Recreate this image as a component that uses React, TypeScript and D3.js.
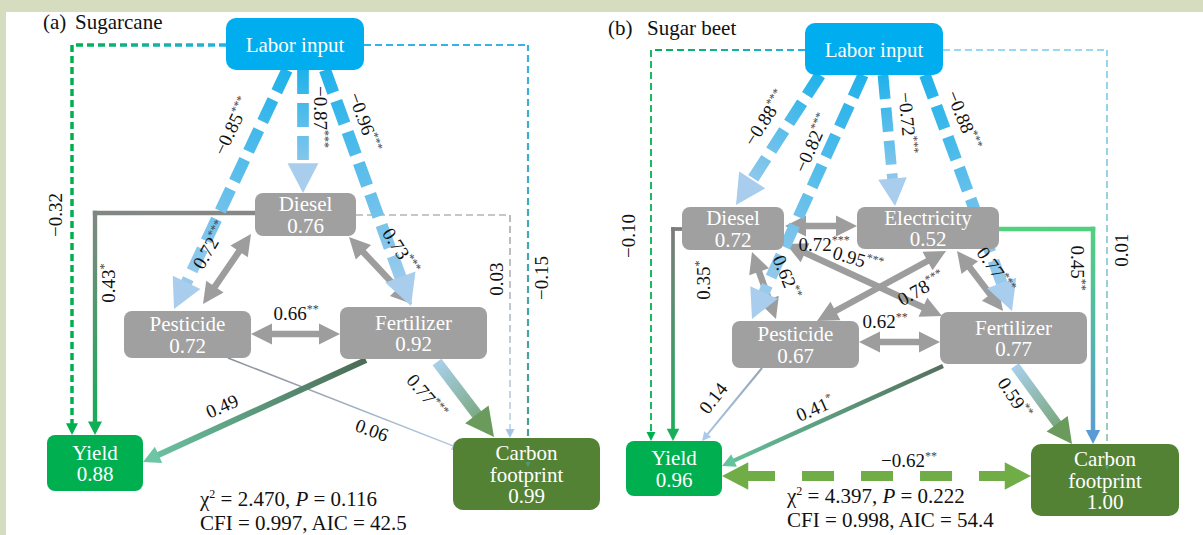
import React from 'react';
import * as d3 from 'd3';

type Edge = [string, string, number, string];
type Rect = [number, number, number, number];

// ---------- (a) Sugarcane ----------
const caneNodes = ['labor', 'diesel', 'pesticide', 'fertilizer', 'yield', 'carbon'];
const caneR2 = [NaN, 0.76, 0.72, 0.92, 0.88, 0.99];
const canePaths: Edge[] = [
  ['labor', 'diesel', -0.87, '***'],
  ['labor', 'pesticide', -0.85, '***'],
  ['labor', 'fertilizer', -0.96, '***'],
  ['labor', 'yield', -0.32, ''],
  ['labor', 'carbon', -0.15, ''],
  ['diesel', 'yield', 0.43, '*'],
  ['diesel', 'carbon', 0.03, ''],
  ['pesticide', 'carbon', 0.06, ''],
  ['fertilizer', 'yield', 0.49, ''],
  ['fertilizer', 'carbon', 0.77, '***'],
];
const caneCovs: Edge[] = [
  ['diesel', 'pesticide', 0.72, '***'],
  ['diesel', 'fertilizer', 0.73, '***'],
  ['pesticide', 'fertilizer', 0.66, '**'],
];
const caneFit = [2.47, 0.116, 0.997, 42.5];

// ---------- (b) Sugar beet ----------
const beetNodes = ['labor', 'diesel', 'electricity', 'pesticide', 'fertilizer', 'yield', 'carbon'];
const beetR2 = [NaN, 0.72, 0.52, 0.67, 0.77, 0.96, 1.0];
const beetPaths: Edge[] = [
  ['labor', 'diesel', -0.88, '***'],
  ['labor', 'pesticide', -0.82, '***'],
  ['labor', 'electricity', -0.72, '***'],
  ['labor', 'fertilizer', -0.88, '***'],
  ['labor', 'yield', -0.1, ''],
  ['labor', 'carbon', 0.01, ''],
  ['diesel', 'yield', 0.35, '*'],
  ['electricity', 'carbon', 0.45, '**'],
  ['pesticide', 'yield', 0.14, ''],
  ['fertilizer', 'yield', 0.41, '*'],
  ['fertilizer', 'carbon', 0.59, '**'],
];
const beetCovs: Edge[] = [
  ['diesel', 'electricity', 0.72, '***'],
  ['diesel', 'fertilizer', 0.95, '***'],
  ['diesel', 'pesticide', 0.62, '**'],
  ['electricity', 'pesticide', 0.78, '***'],
  ['electricity', 'fertilizer', 0.77, '***'],
  ['pesticide', 'fertilizer', 0.62, '**'],
  ['yield', 'carbon', -0.62, '**'],
];
const beetFit = [4.397, 0.222, 0.998, 54.4];

const nodeText: Record<string, string[]> = {
  labor: ['Labor input'],
  diesel: ['Diesel'],
  electricity: ['Electricity'],
  pesticide: ['Pesticide'],
  fertilizer: ['Fertilizer'],
  yield: ['Yield'],
  carbon: ['Carbon', 'footprint'],
};

// ---------- layout ----------
const caneBoxes: Record<string, Rect> = {
  labor: [226, 18, 138, 52],
  diesel: [255, 193, 101, 43],
  pesticide: [124, 311, 127, 47],
  fertilizer: [340, 307, 147, 52],
  yield: [47, 435, 96, 56],
  carbon: [453, 438, 147, 72],
};
const beetBoxes: Record<string, Rect> = {
  labor: [805, 23, 138, 52],
  diesel: [682, 207, 102, 43],
  electricity: [857, 207, 142, 42],
  pesticide: [732, 321, 127, 47],
  fertilizer: [940, 312, 147, 52],
  yield: [626, 441, 96, 55],
  carbon: [1031, 444, 148, 72],
};

const nodeFill: Record<string, string> = {
  labor: '#00aeef',
  diesel: '#a0a0a0',
  electricity: '#a0a0a0',
  pesticide: '#a0a0a0',
  fertilizer: '#a0a0a0',
  yield: '#00b050',
  carbon: '#548235',
};

const LABOR = ['#1fb2ea', '#a9cdec'];
const GRAY = ['#9d9d9d', '#9d9d9d'];

interface Route {
  a: [number, number]; // offset inside source box
  b: [number, number]; // offset inside target box
  elbow?: boolean;
  colors: string[];
  label: [number, number, number];
  dash?: string;
  tipOnTop?: boolean;
}

const caneRoutes: Record<string, Route> = {
  'labor>diesel': { a: [77, 52], b: [48, 0], colors: LABOR, label: [321, 117, 90] },
  'labor>pesticide': { a: [61, 52], b: [50, -2], colors: LABOR, label: [232, 126, -64] },
  'labor>fertilizer': { a: [99, 52], b: [71, -1], colors: LABOR, label: [365, 122, 70] },
  'labor>yield': { a: [0, 27], b: [25, 0], elbow: true, colors: ['#25b3e8', '#00b050', '#00b050'], label: [55, 215, -90] },
  'labor>carbon': { a: [138, 27], b: [75, 29], elbow: true, colors: ['#2db4ea', '#3cb2e2', '#4b9c84'], label: [541, 278, -90], tipOnTop: true },
  'diesel>yield': { a: [0, 20], b: [48, 0], elbow: true, colors: ['#878787', '#808782', '#10ae55'], label: [108, 283, -90] },
  'diesel>carbon': { a: [101, 22], b: [57, 0], elbow: true, colors: ['#8e8e8e', '#8e8e8e', '#a5c5e5'], label: [496, 279, -90] },
  'pesticide>carbon': { a: [104, 47], b: [8, 11], colors: ['#8a9097', '#b2cbe4'], label: [372, 430, 20] },
  'fertilizer>yield': { a: [26, 53], b: [96, 27], colors: ['#4b6b55', '#6cc5a4'], label: [222, 406, -24] },
  'fertilizer>carbon': { a: [97, 55], b: [41, -1], colors: ['#a9d0ea', '#6a9b5d'], label: [427, 396, 50] },
  'diesel<>pesticide': { a: [-4, 41], b: [79, -7], colors: GRAY, label: [210, 245, -60] },
  'diesel<>fertilizer': { a: [94, 44], b: [72, -3], colors: GRAY, label: [401, 251, 57] },
  'pesticide<>fertilizer': { a: [127, 23], b: [0, 27], colors: GRAY, label: [296, 313, 0] },
};

const beetRoutes: Record<string, Route> = {
  'labor>diesel': { a: [15, 52], b: [54, -2], colors: LABOR, label: [765, 118, -57] },
  'labor>pesticide': { a: [58, 52], b: [20, -2], colors: LABOR, label: [812, 143, -66] },
  'labor>electricity': { a: [78, 52], b: [38, -1], colors: LABOR, label: [908, 123, 85] },
  'labor>fertilizer': { a: [120, 52], b: [72, -1], colors: LABOR, label: [964, 120, 68] },
  'labor>yield': { a: [0, 27], b: [25, 0], elbow: true, colors: ['#25b3e8', '#00b050', '#00b050'], label: [628, 236, -90] },
  'labor>carbon': { a: [138, 27], b: [76, 26], elbow: true, colors: ['#2db4ea', '#3cb2e2', '#4b9c84'], label: [1121, 250, -90], tipOnTop: true },
  'diesel>yield': { a: [0, 22], b: [47, 0], elbow: true, colors: ['#7c7c7c', '#7c7c7c', '#1aae5a'], label: [703, 280, -90] },
  'electricity>carbon': { a: [142, 22], b: [62, 0], elbow: true, colors: ['#52d27c', '#50d07f', '#5b9bd5'], label: [1078, 268, 90] },
  'pesticide>yield': { a: [30, 47], b: [76, 0], colors: ['#97a5b3', '#abc9e9'], label: [713, 398, -52] },
  'fertilizer>yield': { a: [3, 54], b: [96, 25], colors: ['#55705e', '#64c29d'], label: [815, 408, -24] },
  'fertilizer>carbon': { a: [75, 54], b: [41, 0], colors: ['#a9d0ea', '#6a9b5d'], label: [1015, 398, 56] },
  'diesel<>electricity': { a: [103, 19], b: [0, 19], colors: GRAY, label: [824, 244, 0] },
  'diesel<>fertilizer': { a: [104, 37], b: [2, 4], colors: GRAY, label: [858, 259, 16] },
  'diesel<>pesticide': { a: [70, 45], b: [44, -2], colors: GRAY, label: [787, 277, 68] },
  'electricity<>pesticide': { a: [89, 44], b: [85, 0], colors: GRAY, label: [921, 288, -30] },
  'electricity<>fertilizer': { a: [100, 44], b: [63, -1], colors: GRAY, label: [996, 270, 55] },
  'pesticide<>fertilizer': { a: [127, 21], b: [0, 30], colors: GRAY, label: [885, 321, 0] },
  'yield<>carbon': { a: [96, 35], b: [0, 32], colors: ['#70ad47', '#70ad47'], dash: '32 27', label: [909, 460, 0] },
};

// path coefficient -> stroke width
const widthScale = d3.scaleLinear().domain([0, 0.45, 0.6, 1]).range([1, 4.5, 10, 12.5]).clamp(true);
const fmt2 = d3.format('.2f');
const fmt3 = d3.format('.3f');
const fmt1 = d3.format('.1f');
const coefText = (v: number) => (v < 0 ? '\u2212' : '') + fmt2(Math.abs(v));

const FONT = "'Liberation Serif','Times New Roman',serif";

type Pt = [number, number];

function headPoints(tip: Pt, from: Pt, hw: number, hl: number) {
  const dx = tip[0] - from[0];
  const dy = tip[1] - from[1];
  const L = Math.hypot(dx, dy);
  const ux = dx / L;
  const uy = dy / L;
  const bx = tip[0] - ux * hl;
  const by = tip[1] - uy * hl;
  return `${tip[0]},${tip[1]} ${bx - uy * hw},${by + ux * hw} ${bx + uy * hw},${by - ux * hw}`;
}

interface ConnProps {
  uid: string;
  pts: Pt[];
  colors: string[];
  w: number;
  dash?: string;
  startHead: boolean;
  hw: number;
  hl: number;
}

function Connector({ uid, pts, colors, w, dash, startHead, hw, hl }: ConnProps) {
  const n = pts.length;
  const segs: any[] = [];
  let acc = 0;
  for (let i = 0; i < n - 1; i++) {
    const [x1, y1] = pts[i];
    const [x2, y2] = pts[i + 1];
    const L = Math.hypot(x2 - x1, y2 - y1);
    const ux = (x2 - x1) / L;
    const uy = (y2 - y1) / L;
    let sx1 = x1, sy1 = y1, sx2 = x2, sy2 = y2;
    if (i === 0 && startHead) { sx1 += ux * hl * 0.8; sy1 += uy * hl * 0.8; }
    if (i === n - 2) { sx2 -= ux * hl * 0.8; sy2 -= uy * hl * 0.8; }
    if (i > 0 && !dash) { sx1 -= ux * w / 2; sy1 -= uy * w / 2; }
    if (i < n - 2 && !dash) { sx2 += ux * w / 2; sy2 += uy * w / 2; }
    segs.push({ x1, y1, x2, y2, sx1, sy1, sx2, sy2, off: acc, c1: colors[i], c2: colors[i + 1] });
    acc += L;
  }
  return (
    <g>
      <defs>
        {segs.map((s, i) => (
          <linearGradient key={i} id={`${uid}-g${i}`} gradientUnits="userSpaceOnUse" x1={s.x1} y1={s.y1} x2={s.x2} y2={s.y2}>
            <stop offset="0" stopColor={s.c1} />
            <stop offset="1" stopColor={s.c2} />
          </linearGradient>
        ))}
      </defs>
      {segs.map((s, i) => (
        <line
          key={i}
          x1={s.sx1}
          y1={s.sy1}
          x2={s.sx2}
          y2={s.sy2}
          stroke={`url(#${uid}-g${i})`}
          strokeWidth={w}
          strokeDasharray={dash}
          strokeDashoffset={dash ? -s.off : undefined}
        />
      ))}
      <polygon points={headPoints(pts[n - 1], pts[n - 2], hw, hl)} fill={colors[colors.length - 1]} />
      {startHead && <polygon points={headPoints(pts[0], pts[1], hw, hl)} fill={colors[0]} />}
    </g>
  );
}

function Coef({ x, y, rot, value, stars }: { x: number; y: number; rot: number; value: number; stars: string }) {
  return (
    <text transform={`translate(${x},${y}) rotate(${rot})`} textAnchor="middle" fontSize={19} fill="#111">
      <tspan dy="0.35em">{coefText(value)}</tspan>
      {stars && (
        <tspan dy={-7} fontSize={12} fill="#444">
          {stars}
        </tspan>
      )}
    </text>
  );
}

interface PanelProps {
  id: string;
  nodes: string[];
  r2: number[];
  paths: Edge[];
  covs: Edge[];
  boxes: Record<string, Rect>;
  routes: Record<string, Route>;
  fit: number[];
  fitX: number;
  fitY: number;
  tag: string;
  name: string;
  tagX: number;
  nameX: number;
  titleY: number;
}

function Panel(p: PanelProps) {
  const edges = [
    ...p.covs.map(([a, b, v, s]) => ({ key: `${a}<>${b}`, from: a, to: b, v, s, double: true })),
    ...p.paths.map(([a, b, v, s]) => ({ key: `${a}>${b}`, from: a, to: b, v, s, double: false })),
  ].map((e) => {
    const r = p.routes[e.key];
    const gray = e.double && e.from !== 'yield';
    const w = gray ? 6.5 : widthScale(Math.abs(e.v));
    const dashed = e.v < 0 || Math.abs(e.v) < 0.05;
    const dash = dashed ? r.dash ?? (w >= 8 ? '24 9' : '7 4') : undefined;
    const [fx, fy] = p.boxes[e.from];
    const [tx, ty] = p.boxes[e.to];
    const A: Pt = [fx + r.a[0], fy + r.a[1]];
    const B: Pt = [tx + r.b[0], ty + r.b[1]];
    const pts: Pt[] = r.elbow ? [A, [B[0], A[1]], B] : [A, B];
    const hw = gray ? 10.5 : Math.max(4.5, w * 1.15 + 2);
    const hl = gray ? 21 : Math.max(9, w * 2.2 + 4);
    const rank = gray ? 0 : e.from === 'labor' ? 2 : 1;
    return { ...e, r, w, dash, pts, hw, hl, rank };
  });
  const ordered = [...edges].sort((a, b) => a.rank - b.rank);

  return (
    <g>
      <text x={p.tagX} y={p.titleY} fontSize={21} fill="#111">{p.tag}</text>
      <text x={p.nameX} y={p.titleY} fontSize={21} fill="#111">{p.name}</text>

      {ordered.map((e) => (
        <Connector
          key={e.key}
          uid={`${p.id}-${e.key.replace(/[<>]/g, '_')}`}
          pts={e.pts}
          colors={e.r.colors}
          w={e.w}
          dash={e.dash}
          startHead={e.double}
          hw={e.hw}
          hl={e.hl}
        />
      ))}

      {p.nodes.map((n, i) => {
        const [x, y, w, h] = p.boxes[n];
        const lines = [...nodeText[n]];
        if (!Number.isNaN(p.r2[i])) lines.push(fmt2(p.r2[i]));
        const cy = y + h / 2;
        const lh = 21.5;
        return (
          <g key={n}>
            <rect x={x} y={y} width={w} height={h} rx={n === 'labor' || n === 'carbon' ? 10 : 8} fill={nodeFill[n]} />
            <text textAnchor="middle" fontSize={21} fill="#fff">
              {lines.map((t, k) => (
                <tspan key={k} x={x + w / 2} y={cy + (k - (lines.length - 1) / 2) * lh + 7.5}>
                  {t}
                </tspan>
              ))}
            </text>
          </g>
        );
      })}

      {/* small arrow tips that show through the target box */}
      {edges
        .filter((e) => e.r.tipOnTop)
        .map((e) => (
          <polygon
            key={`tip-${e.key}`}
            points={headPoints(e.pts[e.pts.length - 1], e.pts[e.pts.length - 2], 2.5, 5)}
            fill={e.r.colors[e.r.colors.length - 1]}
          />
        ))}

      {edges.map((e) => (
        <Coef key={`l-${e.key}`} x={e.r.label[0]} y={e.r.label[1]} rot={e.r.label[2]} value={e.v} stars={e.s} />
      ))}

      <text x={p.fitX} y={p.fitY} fontSize={21} fill="#111">
        χ<tspan fontSize={12} dy={-8}>2</tspan>
        <tspan dy={8}>{` = ${fmt3(p.fit[0])}, `}</tspan>
        <tspan fontStyle="italic">P</tspan>
        <tspan>{` = ${fmt3(p.fit[1])}`}</tspan>
      </text>
      <text x={p.fitX} y={p.fitY + 24} fontSize={21} fill="#111">
        {`CFI = ${fmt3(p.fit[2])}, AIC = ${fmt1(p.fit[3])}`}
      </text>
    </g>
  );
}

export default function App() {
  const W = 1203;
  const H = 535;
  return (
    <svg
      width={W}
      height={H}
      viewBox={`0 0 ${W} ${H}`}
      style={{ position: 'absolute', left: 0, top: 0, display: 'block' }}
      fontFamily={FONT}
    >
      <rect width={W} height={H} fill="#d6dcc0" />
      <rect x={6} y={12} width={W - 6} height={H - 12} fill="#ffffff" />
      <Panel
        id="a"
        nodes={caneNodes}
        r2={caneR2}
        paths={canePaths}
        covs={caneCovs}
        boxes={caneBoxes}
        routes={caneRoutes}
        fit={caneFit}
        fitX={200}
        fitY={506}
        tag="(a)"
        name="Sugarcane"
        tagX={43}
        nameX={75}
        titleY={29}
      />
      <Panel
        id="b"
        nodes={beetNodes}
        r2={beetR2}
        paths={beetPaths}
        covs={beetCovs}
        boxes={beetBoxes}
        routes={beetRoutes}
        fit={beetFit}
        fitX={787}
        fitY={503}
        tag="(b)"
        name="Sugar beet"
        tagX={608}
        nameX={647}
        titleY={35}
      />
    </svg>
  );
}
